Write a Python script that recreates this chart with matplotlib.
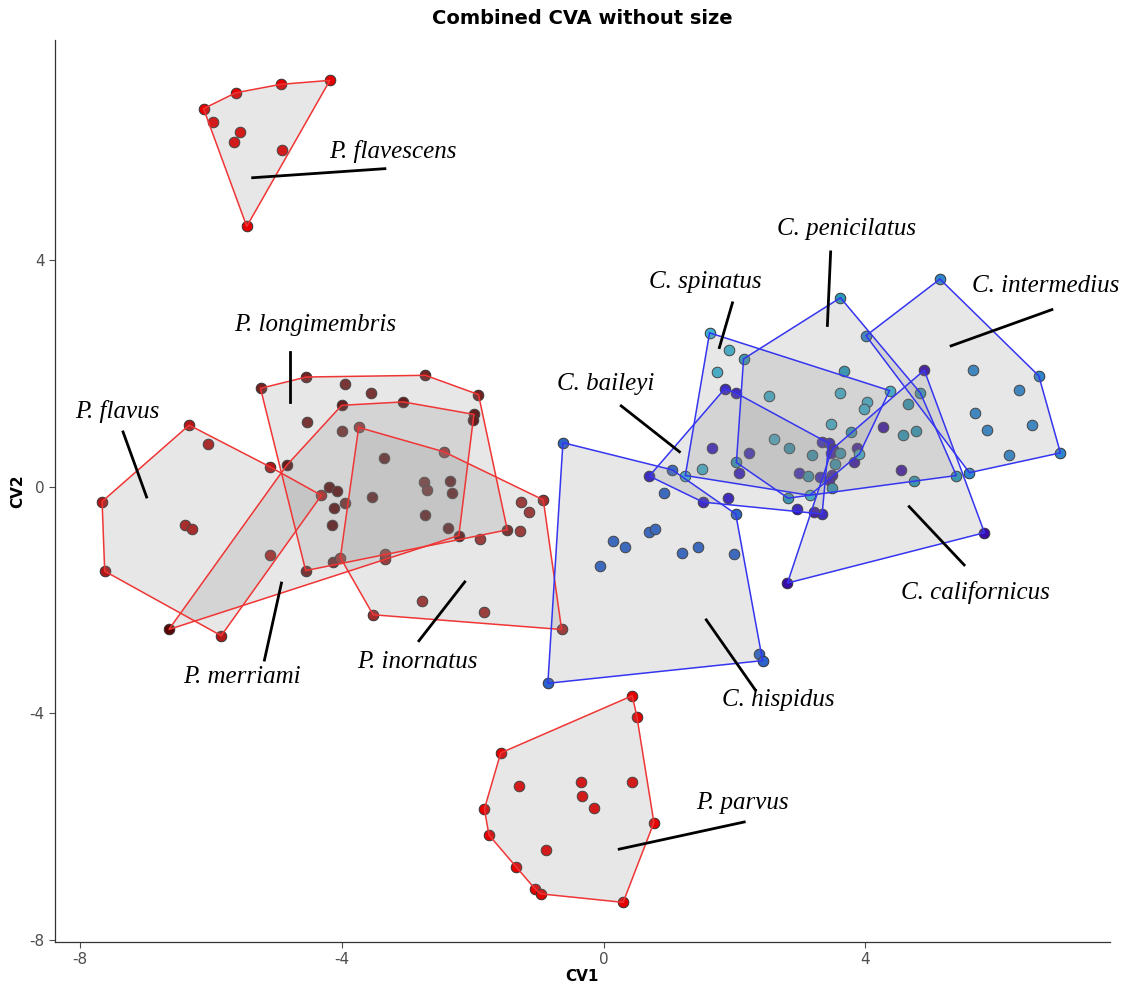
import numpy as np
import matplotlib.pyplot as plt
from matplotlib.patches import Polygon

plt.rcParams['axes.unicode_minus'] = False

# CV1 / CV2 scores for each species
flavescens_cv1 = [-6.11, -5.97, -5.62, -4.93, -4.18, -5.55, -5.64, -4.91, -5.45]
flavescens_cv2 = [6.68, 6.45, 6.96, 7.11, 7.18, 6.27, 6.09, 5.95, 4.60]

parvus_cv1 = [0.44, 0.51, -1.57, -1.29, -0.34, 0.44, -0.33, -0.15, -1.82, 0.77,
              -1.75, -0.88, -1.33, -1.04, -0.96, 0.30]
parvus_cv2 = [-3.69, -4.06, -4.70, -5.29, -5.22, -5.21, -5.47, -5.68, -5.69, -5.93,
              -6.15, -6.42, -6.72, -7.11, -7.19, -7.34]

flavus_cv1 = [-7.66, -6.33, -5.09, -4.31, -5.84, -7.62, -6.04, -6.40, -6.28, -5.09]
flavus_cv2 = [-0.26, 1.09, 0.35, -0.15, -2.63, -1.49, 0.75, -0.67, -0.74, -1.20]

merriami_cv1 = [-6.64, -4.84, -4.00, -3.06, -1.98, -2.00, -2.21, -3.36, -4.19, -4.07,
                -4.12, -4.15, -3.53, -2.35, -2.32, -2.73, -2.38]
merriami_cv2 = [-2.52, 0.38, 1.44, 1.50, 1.28, 1.18, -0.86, 0.51, -0.01, -0.07,
                -0.38, -0.68, -0.18, 0.11, -0.11, -0.50, -0.72]

longimembris_cv1 = [-5.24, -4.54, -2.72, -1.91, -1.47, -4.55, -3.95, -3.55, -4.53, -4.00,
                    -3.95, -2.74, -2.69, -4.14]
longimembris_cv2 = [1.74, 1.94, 1.97, 1.63, -0.76, -1.48, 1.82, 1.66, 1.15, 0.98,
                    -0.28, 0.08, -0.06, -1.33]

inornatus_cv1 = [-3.74, -2.44, -0.92, -0.64, -3.52, -4.02, -1.89, -1.28, -1.26, -1.14,
                 -2.78, -1.83, -3.34, -3.34]
inornatus_cv2 = [1.05, 0.62, -0.23, -2.52, -2.26, -1.25, -0.92, -0.78, -0.27, -0.45,
                 -2.01, -2.21, -1.28, -1.18]

hispidus_cv1 = [-0.62, 1.05, 0.93, 2.02, 0.69, 0.78, 0.15, 0.33, -0.05, 1.20,
                1.45, 2.00, 2.37, 2.43, -0.85]
hispidus_cv2 = [0.78, 0.30, -0.11, -0.48, -0.79, -0.74, -0.96, -1.07, -1.40, -1.17,
                -1.07, -1.18, -2.96, -3.07, -3.47]

baileyi_cv1 = [0.70, 1.85, 2.02, 1.65, 2.23, 2.07, 1.52, 1.90, 2.99, 2.96,
               3.34, 3.34, 3.44, 3.31]
baileyi_cv2 = [0.19, 1.73, 1.66, 0.69, 0.59, 0.25, -0.27, -0.19, 0.24, -0.39,
               -0.48, 0.79, 0.77, 0.17]

californicus_cv1 = [4.90, 4.27, 3.88, 3.83, 4.55, 3.50, 3.47, 3.49, 3.45, 5.82, 2.81, 3.22]
californicus_cv2 = [2.06, 1.05, 0.68, 0.43, 0.30, 0.67, 0.59, 0.21, 0.12, -0.81, -1.70, -0.44]

spinatus_cv1 = [1.62, 1.92, 1.74, 2.53, 3.61, 4.37, 4.02, 3.98, 3.48, 3.91,
                1.25, 1.50, 3.15, 2.61]
spinatus_cv2 = [2.72, 2.42, 2.02, 1.61, 1.65, 1.70, 1.49, 1.38, 1.11, 0.58,
                0.20, 0.31, -0.15, 0.85]

penicilatus_cv1 = [3.62, 2.14, 2.03, 2.82, 5.39, 4.74, 3.67, 2.83, 3.18, 3.78,
                   4.57, 4.77, 4.65, 4.84, 3.49, 3.61, 3.54, 3.12]
penicilatus_cv2 = [3.34, 2.26, 0.43, -0.20, 0.20, 0.10, 2.05, 0.68, 0.56, 0.97,
                   0.92, 0.98, 1.46, 1.66, -0.02, 0.59, 0.41, 0.19]

intermedius_cv1 = [5.14, 4.01, 6.65, 6.98, 5.59, 5.65, 6.34, 5.68, 5.86, 6.55, 6.20]
intermedius_cv2 = [3.67, 2.67, 1.96, 0.60, 0.25, 2.06, 1.71, 1.30, 1.01, 1.09, 0.56]

RED_LINE = '#f03535'
BLUE_LINE = '#3535f0'

groups = [
    (flavus_cv1, flavus_cv2, '#b01818', RED_LINE),
    (longimembris_cv1, longimembris_cv2, '#742222', RED_LINE),
    (merriami_cv1, merriami_cv2, '#5a0404', RED_LINE),
    (inornatus_cv1, inornatus_cv2, '#a02c2c', RED_LINE),
    (flavescens_cv1, flavescens_cv2, '#e40000', RED_LINE),
    (parvus_cv1, parvus_cv2, '#e40000', RED_LINE),
    (hispidus_cv1, hispidus_cv2, '#2b63c9', BLUE_LINE),
    (baileyi_cv1, baileyi_cv2, '#2f16c8', BLUE_LINE),
    (californicus_cv1, californicus_cv2, '#3a0ca6', BLUE_LINE),
    (spinatus_cv1, spinatus_cv2, '#3cb2d2', BLUE_LINE),
    (penicilatus_cv1, penicilatus_cv2, '#2a98b8', BLUE_LINE),
    (intermedius_cv1, intermedius_cv2, '#2f86cc', BLUE_LINE),
]

# species name, text position, leader line start/end
labels = [
    ('P. flavescens', (-3.22, 5.92), (-5.36, 5.46), (-3.34, 5.62)),
    ('P. longimembris', (-4.40, 2.86), (-4.79, 2.39), (-4.79, 1.50)),
    ('P. flavus', (-7.42, 1.33), (-7.34, 0.97), (-6.98, -0.18)),
    ('P. merriami', (-5.53, -3.36), (-4.92, -1.70), (-5.18, -3.06)),
    ('P. inornatus', (-2.85, -3.09), (-2.12, -1.68), (-2.82, -2.72)),
    ('P. parvus', (2.12, -5.58), (0.24, -6.40), (2.15, -5.92)),
    ('C. hispidus', (2.67, -3.76), (1.57, -2.35), (2.32, -3.59)),
    ('C. californicus', (5.68, -1.86), (4.67, -0.35), (5.51, -1.38)),
    ('C. baileyi', (0.03, 1.82), (0.27, 1.43), (1.16, 0.62)),
    ('C. spinatus', (1.56, 3.62), (1.97, 3.25), (1.77, 2.46)),
    ('C. penicilatus', (3.71, 4.56), (3.47, 4.15), (3.42, 2.85)),
    ('C. intermedius', (6.76, 3.55), (6.85, 3.13), (5.31, 2.49)),
]


def convex_hull(xs, ys):
    pts = sorted(set(zip(xs, ys)))

    def cross(o, a, b):
        return (a[0] - o[0]) * (b[1] - o[1]) - (a[1] - o[1]) * (b[0] - o[0])

    lower, upper = [], []
    for p in pts:
        while len(lower) >= 2 and cross(lower[-2], lower[-1], p) <= 0:
            lower.pop()
        lower.append(p)
    for p in reversed(pts):
        while len(upper) >= 2 and cross(upper[-2], upper[-1], p) <= 0:
            upper.pop()
        upper.append(p)
    return np.array(lower[:-1] + upper[:-1])


fig = plt.figure(figsize=(11.45, 9.9), dpi=100)
ax = fig.add_axes([0.048, 0.0485, 0.921, 0.9115])

for xs, ys, col, line in groups:
    ax.scatter(xs, ys, s=58, c=col, edgecolors='#333333', linewidths=0.7, zorder=2)

# hulls: translucent grey fill, coloured outline
for xs, ys, col, line in groups:
    h = convex_hull(xs, ys)
    ax.add_patch(Polygon(h, closed=True, facecolor='#8a8a8a', alpha=0.2,
                         edgecolor='none', zorder=3))
    ax.add_patch(Polygon(h, closed=True, facecolor='none', edgecolor=line,
                         linewidth=1.1, zorder=4))

for name, txt, p0, p1 in labels:
    ax.plot([p0[0], p1[0]], [p0[1], p1[1]], color='black', lw=2.0, zorder=5)
    ax.text(txt[0], txt[1], name, family='Liberation Serif', style='italic',
            fontsize=18, ha='center', va='center', zorder=6)

ax.set_xlim(-8.38, 7.73)
ax.set_ylim(-8.04, 7.9)
ax.set_xticks([-8, -4, 0, 4])
ax.set_yticks([-8, -4, 0, 4])
ax.tick_params(labelsize=11, colors='#4d4d4d', length=4, width=0.8)
for side in ['top', 'right']:
    ax.spines[side].set_visible(False)
for side in ['left', 'bottom']:
    ax.spines[side].set_color('#333333')
    ax.spines[side].set_linewidth(0.9)

ax.set_xlabel('CV1', fontsize=11, fontweight='bold', labelpad=1)
ax.set_ylabel('CV2', fontsize=11, fontweight='bold', labelpad=3)
ax.set_title('Combined CVA without size', fontsize=14, fontweight='bold', pad=11)

fig.savefig('out.png', dpi=100)
